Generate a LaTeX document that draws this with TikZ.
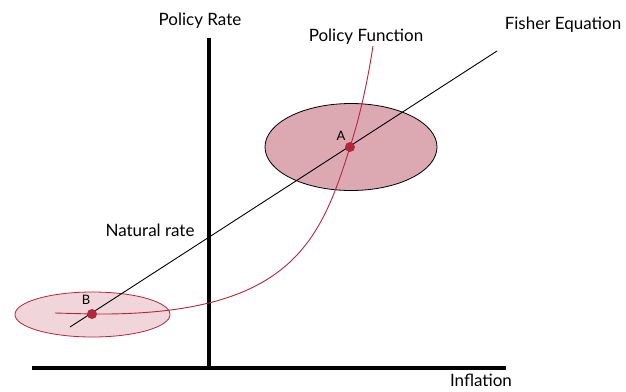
\documentclass[tikz,border=0pt]{standalone}
\usepackage{fontspec}
\setmainfont{Lato}
\definecolor{crimson}{HTML}{B3263F}
\definecolor{zoneA}{HTML}{DCA9B3}
\definecolor{zoneB}{HTML}{F0D5DA}
\begin{document}
\begin{tikzpicture}[x=1pt,y=-1pt,
  axis/.style={line width=3.8pt},
  lbl/.style={font=\fontsize{17}{19}\selectfont, inner sep=0pt},
  ptlbl/.style={font=\fontsize{13}{15}\selectfont, inner sep=0pt},
  dot/.style={circle, fill=crimson, inner sep=0pt, minimum size=10pt},
  fisher/.style={line width=0.9pt, black},
  policy/.style={line width=0.9pt, crimson}]
\useasboundingbox (0,0) rectangle (626,391);

% axes
\coordinate (yTop) at (209,38);
\coordinate (yBot) at (209,368);
\coordinate (xLeft) at (32,368);
\coordinate (xRight) at (506,368);
\draw[axis] (yTop) -- (yBot);
\draw[axis] (xLeft) -- (xRight);

% shaded regions around the two equilibria
\draw[line width=0.8pt, fill=zoneA] (351,147) ellipse [x radius=86, y radius=43.5];
\draw[line width=0.8pt, draw=crimson, fill=zoneB] (92.5,314.5) ellipse [x radius=77.5, y radius=22.5];

% Fisher equation line
\coordinate (fStart) at (70,327);
\coordinate (fEnd) at (497,51);
\draw[fisher] (fStart) -- (fEnd);

% policy function curve
\coordinate (pStart) at (55,313);
\coordinate (pEnd) at (373,46);
\coordinate (B) at (92,314);
\coordinate (A) at (350,147);
\draw[policy] (pStart) -- (B) .. controls (290,316) and (320,243) .. (A)
  .. controls (362,110) and (369,72) .. (pEnd);

% equilibrium points
\node[dot] (ptA) at (A) {};
\node[dot] (ptB) at (B) {};
\node[ptlbl] (labA) at (341,136) {A};
\node[ptlbl] (labB) at (86,300) {B};

% axis and curve labels
\node[lbl] (polRate) at (200,21) {Policy Rate};
\node[lbl] (polFun) at (366,37) {Policy Function};
\node[lbl] (fishEq) at (563,25) {Fisher Equation};
\node[lbl] (infl) at (481,380) {Inflation};
\node[lbl] (natRate) at (150,230) {Natural rate};
\end{tikzpicture}
\end{document}
